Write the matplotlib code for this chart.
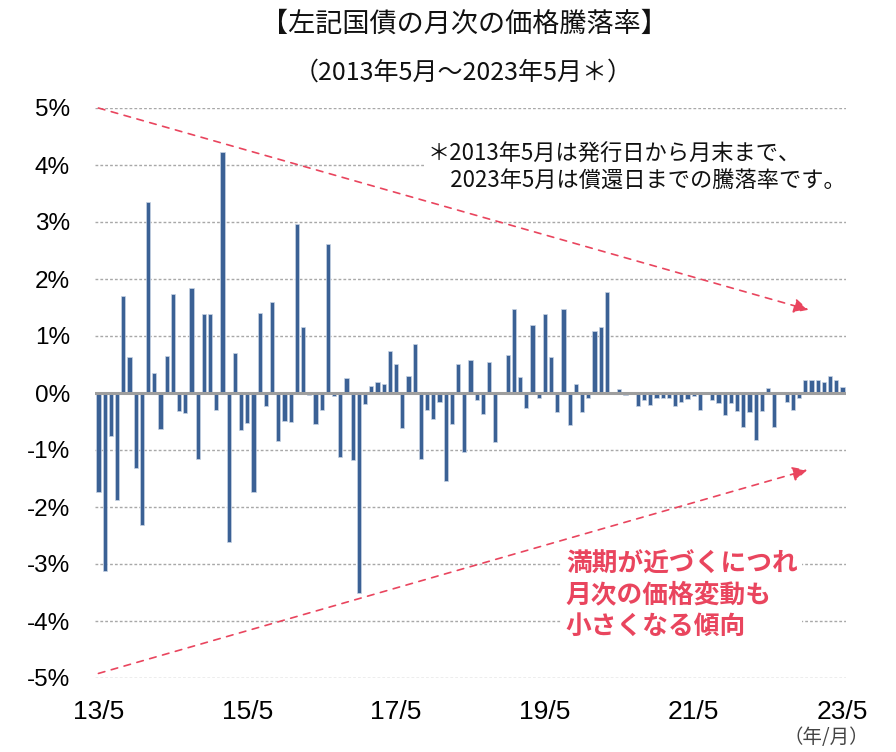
import matplotlib
matplotlib.use("Agg")
import matplotlib.pyplot as plt
import numpy as np

# ---- data ----
returns_pct = [
    -1.73, -3.13, -0.75, -1.87, 1.71, 0.64, -1.31, -2.32, 3.35, 0.35,
    -0.64, 0.65, 1.74, -0.32, -0.35, 1.85, -1.15, 1.38, 1.39, -0.29,
    4.22, -2.61, 0.70, -0.65, -0.53, -1.74, 1.40, -0.22, 1.60, -0.85,
    -0.49, -0.51, 2.96, 1.16, -0.04, -0.54, -0.30, 2.62, -0.06, -1.13,
    0.27, -1.17, -3.50, -0.19, 0.12, 0.20, 0.16, 0.73, 0.51, -0.62,
    0.30, 0.86, -1.16, -0.30, -0.46, -0.16, -1.55, -0.54, 0.51, -1.03,
    0.58, -0.12, -0.37, 0.55, -0.86, 0.01, 0.67, 1.48, 0.28, -0.26,
    1.20, -0.09, 1.39, 0.64, -0.33, 1.48, -0.57, 0.15, -0.33, -0.08,
    1.09, 1.16, 1.77, 0.02, 0.07, -0.03, 0.02, -0.22, -0.13, -0.21,
    -0.09, -0.09, -0.09, -0.22, -0.16, -0.10, -0.06, -0.29, 0.00, -0.13,
    -0.18, -0.38, -0.17, -0.32, -0.60, -0.34, -0.83, -0.31, 0.08, -0.60,
    0.00, -0.15, -0.30, -0.09, 0.22, 0.22, 0.23, 0.19, 0.29, 0.23,
    0.11,
]
xtick_labels = ["13/5", "15/5", "17/5", "19/5", "21/5", "23/5"]
ytick_values = [-5, -4, -3, -2, -1, 0, 1, 2, 3, 4, 5]

title = "【左記国債の月次の価格騰落率】"
subtitle = "（2013年5月～2023年5月＊）"
note = "＊2013年5月は発行日から月末まで、\n　2023年5月は償還日までの騰落率です。"
callout = "満期が近づくにつれ\n月次の価格変動も\n小さくなる傾向"
unit_label = "（年/月）"

JP = ["Noto Sans CJK JP", "DejaVu Sans"]
NUM = ["Liberation Sans", "Noto Sans CJK JP", "DejaVu Sans"]
NARROW = ["Liberation Sans Narrow", "Liberation Sans", "Noto Sans CJK JP"]
plt.rcParams["font.family"] = JP

BLUE = "#3B6195"
PINK = "#E9455E"

fig = plt.figure(figsize=(8.96, 7.52), dpi=100)
ax = fig.add_axes([95 / 896, 1 - 678 / 752, (846 - 95) / 896, (678 - 108) / 752])

x = np.arange(len(returns_pct))
ax.bar(x, returns_pct, width=0.68, color=BLUE, edgecolor="#C8D3E3", linewidth=0.5, zorder=3)

ax.set_xlim(-0.55, len(returns_pct) - 1 + 0.55)
ax.set_ylim(-5, 5)

for v in ytick_values:
    if v == 0:
        continue
    ax.axhline(v, color="#A8A8A8", lw=1.0, ls=(0, (2, 1.5)), zorder=1)
ax.axhline(0, color="#9E9E9E", lw=2.2, zorder=4)

for s in ax.spines.values():
    s.set_visible(False)

ax.set_yticks(ytick_values)
ax.set_yticklabels([f"{v}%" for v in ytick_values], fontfamily=NUM, fontsize=17.5)
ax.set_xticks(np.arange(0, len(returns_pct), 24))
ax.set_xticklabels(xtick_labels, fontfamily=NARROW, fontsize=19)
ax.tick_params(axis="y", length=0, pad=18)
ax.tick_params(axis="x", length=0, pad=16)

# titles
fig.text(464 / 896, 1 - 24 / 752, title, ha="center", va="center", fontsize=19.5, color="#111111")
fig.text(463 / 896, 1 - 73 / 752, subtitle, ha="center", va="center", fontsize=18, color="#111111")

# note with white background
ax.text(0.443, 0.895, note, transform=ax.transAxes, ha="left", va="center",
        fontsize=16, linespacing=1.2, color="#111111", zorder=6,
        bbox=dict(facecolor="white", edgecolor="none", pad=2))

# callout
ax.text(0.627, 0.145, callout, transform=ax.transAxes, ha="left", va="center",
        fontsize=18.5, linespacing=1.2, color=PINK, fontweight="bold", zorder=6,
        bbox=dict(facecolor="white", edgecolor="none", pad=3))

# dashed arrows
for start, end in [((0, 5.0), (114.5, 1.46)), ((0, -4.92), (114.3, -1.35))]:
    ax.annotate("", xy=end, xytext=start, zorder=5,
                arrowprops=dict(arrowstyle="-|>", color=PINK, lw=1.2, ls=(0, (4, 4)),
                                mutation_scale=22, shrinkA=0, shrinkB=0))

fig.text(826 / 896, 1 - 738 / 752, unit_label, ha="center", va="center", fontsize=14, color="#444444")

fig.savefig("out.png", dpi=100)
